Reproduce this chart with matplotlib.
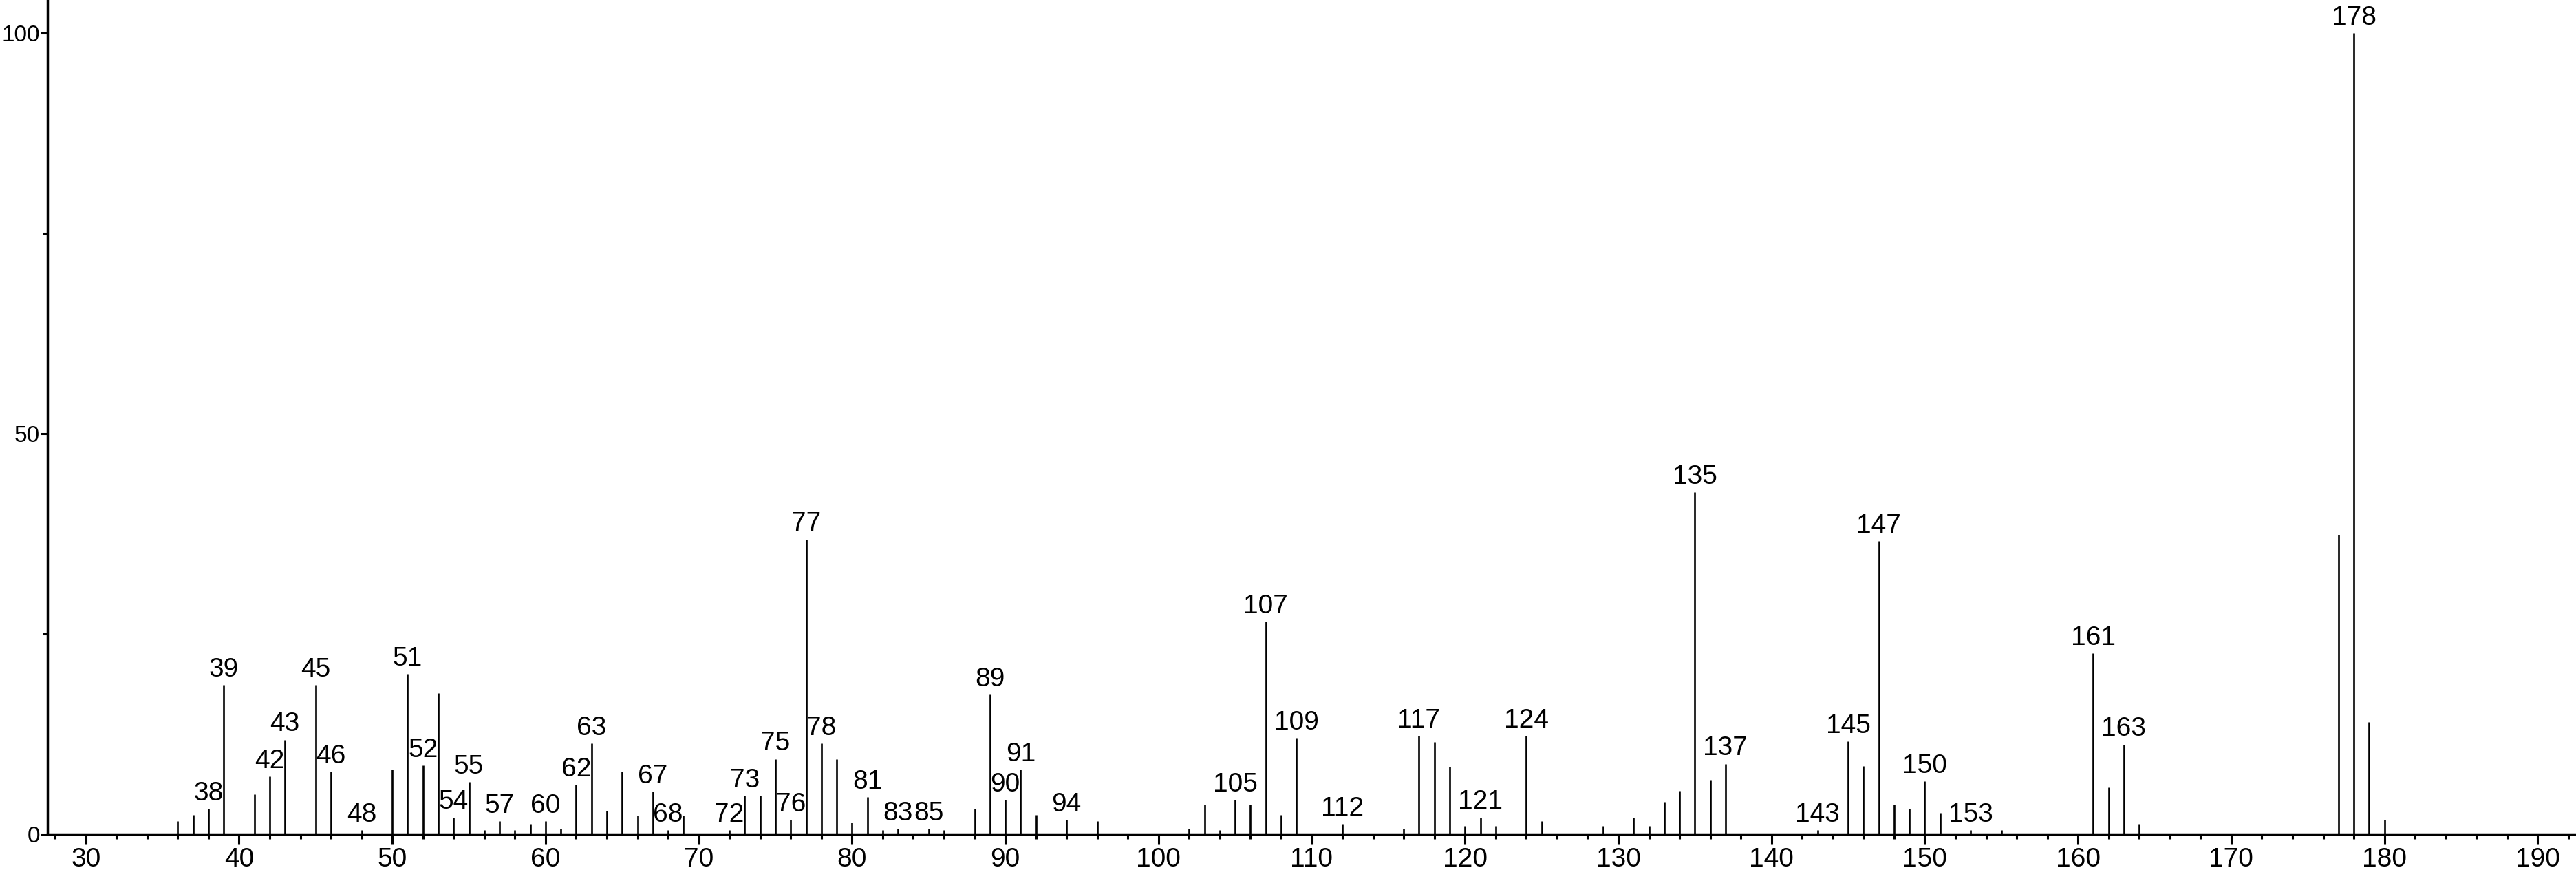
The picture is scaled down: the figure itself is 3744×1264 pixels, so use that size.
import numpy as np
import matplotlib
matplotlib.use("Agg")
import matplotlib.pyplot as plt
from matplotlib.ticker import MultipleLocator

# m/z values and relative intensities
mz = [36, 37, 38, 39, 41, 42, 43, 45, 46, 48, 50, 51, 52, 53, 54, 55, 56, 57, 58, 59,
      60, 61, 62, 63, 64, 65, 66, 67, 68, 69, 72, 73, 74, 75, 76, 77, 78, 79, 80, 81,
      82, 83, 85, 86, 88, 89, 90, 91, 92, 94, 96, 102, 103, 104, 105, 106, 107, 108, 109, 112,
      116, 117, 118, 119, 120, 121, 122, 124, 125, 129, 131, 132, 133, 134, 135, 136, 137, 143, 145, 146,
      147, 148, 149, 150, 151, 153, 155, 161, 162, 163, 164, 177, 178, 179, 180]
intensity = [1.6, 2.4, 3.2, 18.6, 5.0, 7.2, 11.8, 18.6, 7.8, 0.5, 8.1, 20.0, 8.6, 17.6, 2.1, 6.5, 0.5, 1.6, 0.5, 1.3,
             1.6, 0.7, 6.2, 11.3, 2.9, 7.8, 2.3, 5.3, 0.5, 2.3, 0.5, 4.8, 4.8, 9.4, 1.8, 36.8, 11.3, 9.4, 1.5, 4.6,
             0.5, 0.7, 0.7, 0.5, 3.2, 17.4, 4.3, 8.1, 2.4, 1.8, 1.6, 0.7, 3.7, 0.5, 4.3, 3.7, 26.5, 2.4, 12.0, 1.3,
             0.7, 12.3, 11.5, 8.4, 1.0, 2.1, 1.0, 12.3, 1.6, 1.0, 2.1, 1.0, 4.0, 5.4, 42.7, 6.8, 8.8, 0.5, 11.6, 8.5,
             36.6, 3.7, 3.2, 6.6, 2.7, 0.5, 0.5, 22.6, 5.8, 11.2, 1.3, 37.4, 100.0, 14.0, 1.8]

labeled = [38, 39, 42, 43, 45, 46, 48, 51, 52, 54, 55, 57, 60, 62, 63, 67, 68, 72, 73, 75,
           76, 77, 78, 81, 83, 85, 89, 90, 91, 94, 105, 107, 109, 112, 117, 121, 124, 135, 137, 143,
           145, 147, 150, 153, 161, 163, 178]

W, H, DPI = 3744, 1264, 100
narrow = ['Liberation Sans Narrow', 'Liberation Sans', 'DejaVu Sans']

fig = plt.figure(figsize=(W / DPI, H / DPI), dpi=DPI)
left_px, base_px = 69, 1212
ax = fig.add_axes([left_px / W, 1 - base_px / H, 1 - left_px / W, base_px / H])

ax.vlines(mz, 0, intensity, colors='black', linewidth=1.9)

peaks = dict(zip(mz, intensity))
for m in labeled:
    ax.annotate(str(m), (m, peaks[m]), xytext=(0, 3), textcoords='offset points',
                ha='center', va='bottom', fontsize=28, family=narrow)

ax.set_xlim(27.5, 192.5)
ax.set_ylim(0, 104.1)

for side in ['top', 'right']:
    ax.spines[side].set_visible(False)
for side in ['left', 'bottom']:
    ax.spines[side].set_linewidth(2.5)

ax.xaxis.set_major_locator(MultipleLocator(10))
ax.xaxis.set_minor_locator(MultipleLocator(2))
ax.yaxis.set_major_locator(MultipleLocator(50))
ax.yaxis.set_minor_locator(MultipleLocator(25))
ax.tick_params(axis='x', which='major', length=10, width=2.2, pad=4, labelsize=28)
ax.tick_params(axis='x', which='minor', length=5, width=2.2)
ax.tick_params(axis='y', which='major', length=7, width=2.2, pad=1, labelsize=24)
ax.tick_params(axis='y', which='minor', length=5, width=2.2)
for lab in ax.get_xticklabels():
    lab.set_family(narrow)
for lab in ax.get_yticklabels():
    lab.set_family(['Liberation Sans', 'DejaVu Sans'])

fig.savefig('out.png', dpi=DPI)
